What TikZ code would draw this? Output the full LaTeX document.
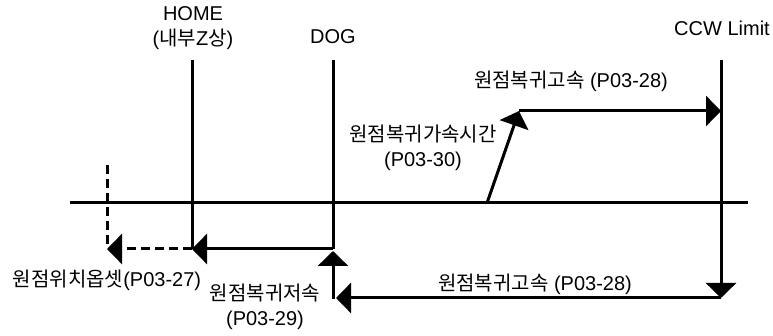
\documentclass[tikz,border=0pt]{standalone}
\usepackage{fontspec}
\setmainfont{Liberation Sans}
\newfontfamily\kr{Noto Sans CJK KR}
\usetikzlibrary{arrows.meta}
\tikzset{
  ln/.style={line width=3pt},
  arr/.style={ln, -{Triangle[length=15pt,width=30pt]}},
  dsh/.style={ln, dash pattern=on 9pt off 5pt},
  lbl/.style={font=\fontsize{20}{25}\selectfont, inner sep=0pt, align=center}
}
\begin{document}
\begin{tikzpicture}[x=1pt,y=-1pt]
\useasboundingbox (0,0) rectangle (773,336);
% coordinates
\coordinate (axL) at (70,203);
\coordinate (axR) at (748,203);
\coordinate (homeT) at (192,60);
\coordinate (homeB) at (192,249);
\coordinate (dogT) at (333,60);
\coordinate (dogM) at (333,249);
\coordinate (dogB) at (333,299);
\coordinate (dogUp) at (333,251);
\coordinate (ccwT) at (721,60);
\coordinate (ccwH) at (721,111);
\coordinate (ccwB) at (721,298);
\coordinate (botEnd) at (336,298);
\coordinate (rampS) at (487,203);
\coordinate (rampE) at (519,111);
\coordinate (offT) at (107,165);
\coordinate (offB) at (107,249);
% labels
\node[lbl] (home) at (193,28) {HOME\\({\kr 내부}Z{\kr 상})};
\node[lbl] (dog) at (333,37) {DOG};
\node[lbl] (ccw) at (722,28) {CCW Limit};
\node[lbl] (high1) at (571,81) {{\kr 원점복귀고속} (P03-28)};
\node[lbl] (acc) at (423,148) {{\kr 원점복귀가속시간}\\(P03-30)};
\node[lbl] (high2) at (535,284) {{\kr 원점복귀고속} (P03-28)};
\node[lbl] (offset) at (107,280) {{\kr 원점위치옵셋}(P03-27)};
\node[lbl] (low) at (265,307) {{\kr 원점복귀저속}\\(P03-29)};
% lines
\draw[ln] (axL) -- (axR);
\draw[ln] (homeT) -- (homeB);
\draw[ln] (dogT) -- (dogM);
\draw[arr] (ccwT) -- (ccwB);
\draw[arr] (rampS) -- (rampE);
\draw[arr] (rampE) -- (ccwH);
\draw[arr] (ccwB) -- (botEnd);
\draw[arr] (dogB) -- (dogUp);
\draw[arr] (dogM) -- (homeB);
\draw[dsh] (offT) -- (offB);
\draw[dsh, -{Triangle[length=15pt,width=30pt]}] (homeB) -- (offB);
\end{tikzpicture}
\end{document}
